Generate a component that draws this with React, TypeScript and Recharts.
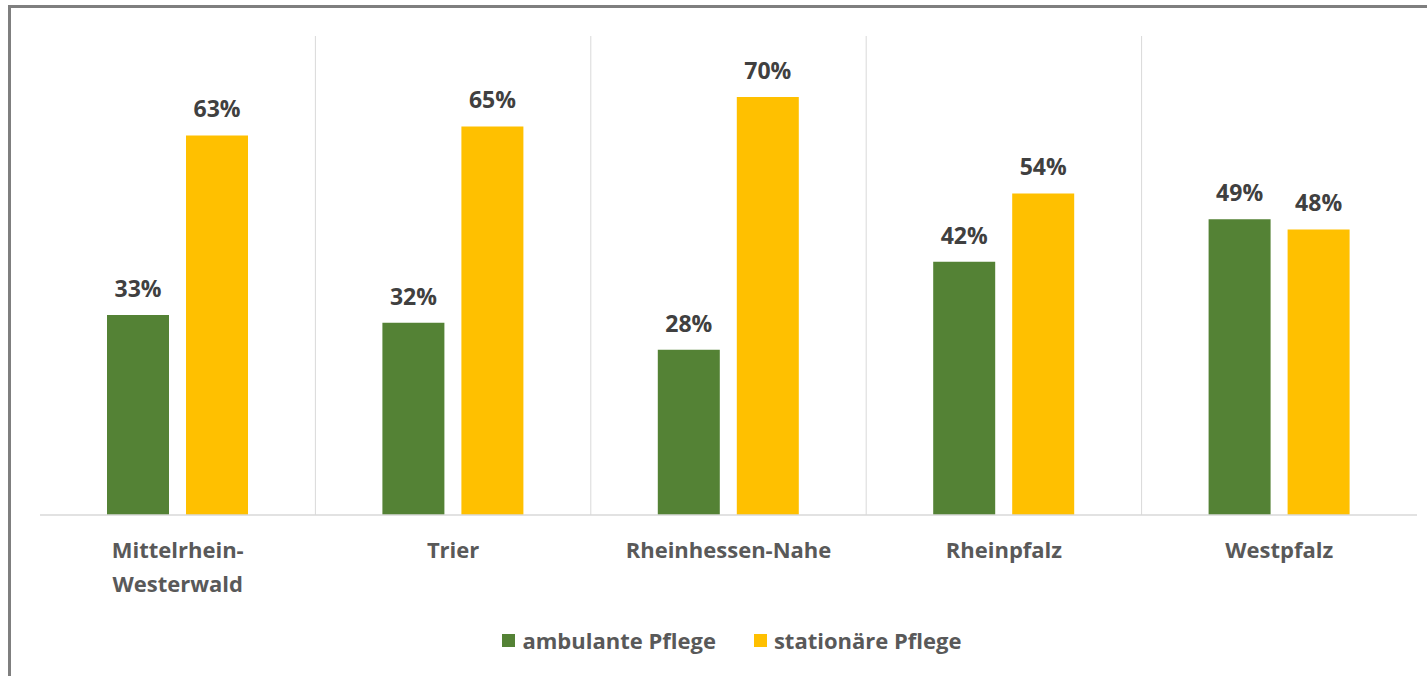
import React from "react";
import { BarChart, Bar, XAxis, YAxis, CartesianGrid, LabelList, Legend } from "recharts";

const categories = ["Mittelrhein-\nWesterwald", "Trier", "Rheinhessen-Nahe", "Rheinpfalz", "Westpfalz"];
const ambulante = [33.4, 32.1, 27.6, 42.3, 49.4];
const stationaere = [63.4, 64.9, 69.8, 53.7, 47.7];
const seriesNames = ["ambulante Pflege", "stationäre Pflege"];

const data = categories.map((name, i) => ({
  name,
  amb: ambulante[i],
  stat: stationaere[i],
}));

const FONT = "'Open Sans', sans-serif";

const CategoryTick = (props: any) => {
  const { x, y, payload } = props;
  const lines = String(payload.value).split("\n");
  return (
    <text x={x} y={y + 35} textAnchor="middle" fill="#595959" fontFamily={FONT} fontWeight={700} fontSize={22}>
      {lines.map((l, i) => (
        <tspan key={i} x={x} dy={i === 0 ? 0 : 34}>
          {l}
        </tspan>
      ))}
    </text>
  );
};

const LegendContent = (props: any) => {
  const { payload } = props;
  return (
    <div
      style={{
        height: 56,
        display: "flex",
        justifyContent: "center",
        alignItems: "flex-start",
        paddingLeft: 7,
        fontFamily: FONT,
        fontWeight: 700,
        fontSize: 22,
        color: "#595959",
      }}
    >
      {(payload || []).map((p: any, i: number) => (
        <div key={i} style={{ display: "flex", alignItems: "center", marginLeft: i === 0 ? 0 : 38, height: 40 }}>
          <span style={{ display: "inline-block", width: 13, height: 13, background: p.color, marginRight: 7 }} />
          <span>{p.value}</span>
        </div>
      ))}
    </div>
  );
};

// vertical separators between categories, derived from the plot area
const separatorGenerator = ({ offset }: any) => {
  const n = categories.length;
  const step = offset.width / n;
  return categories.slice(1).map((_, i) => offset.left + step * (i + 1));
};

export default function App() {
  return (
    <div style={{ position: "absolute", left: 0, top: 0, width: 1427, height: 676, background: "#fff", overflow: "hidden" }}>
      <div
        style={{
          position: "absolute",
          left: 8,
          top: 5,
          width: 1419,
          height: 671,
          borderLeft: "3px solid #7f7f7f",
          borderTop: "3px solid #7f7f7f",
          boxSizing: "border-box",
        }}
      />
      <div style={{ position: "absolute", left: 0, top: 0 }}>
        <BarChart
          width={1417}
          height={676}
          data={data}
          margin={{ top: 36, right: 0, left: 40, bottom: 0 }}
          barSize={62}
          barGap={17}
        >
          <CartesianGrid horizontal={false} stroke="#d9d9d9" strokeWidth={1} verticalCoordinatesGenerator={separatorGenerator} />
          <XAxis
            dataKey="name"
            interval={0}
            tickLine={false}
            axisLine={{ stroke: "#d9d9d9", strokeWidth: 1.5 }}
            height={105}
            tick={<CategoryTick />}
          />
          <YAxis hide domain={[0, 80]} />
          <Legend verticalAlign="bottom" content={<LegendContent />} />
          <Bar dataKey="amb" name={seriesNames[0]} fill="#548235" isAnimationActive={false}>
            <LabelList
              dataKey="amb"
              position="top"
              offset={18}
              formatter={(v: any) => `${Math.round(v)}%`}
              fill="#404040"
              fontFamily={FONT}
              fontWeight={700}
              fontSize={23}
            />
          </Bar>
          <Bar dataKey="stat" name={seriesNames[1]} fill="#ffc000" isAnimationActive={false}>
            <LabelList
              dataKey="stat"
              position="top"
              offset={18}
              formatter={(v: any) => `${Math.round(v)}%`}
              fill="#404040"
              fontFamily={FONT}
              fontWeight={700}
              fontSize={23}
            />
          </Bar>
        </BarChart>
      </div>
    </div>
  );
}
